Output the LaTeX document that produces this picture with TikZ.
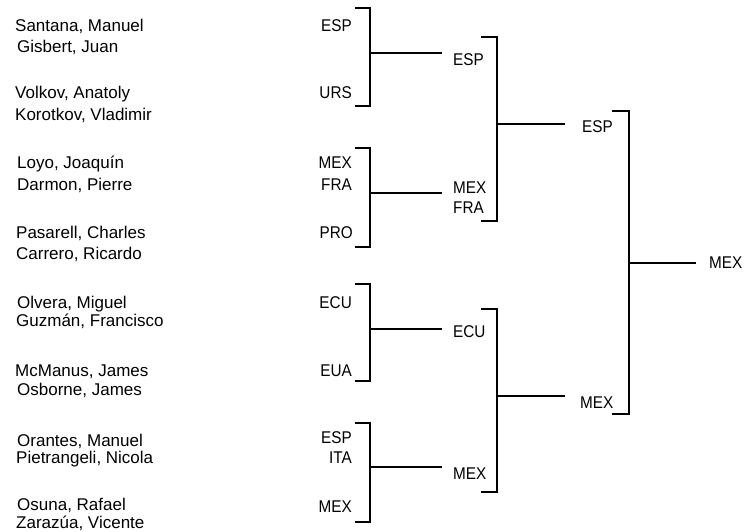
\documentclass[tikz,border=0pt]{standalone}
\usepackage{fontspec}
\setmainfont{Liberation Sans}
\newfontfamily\namefont{Liberation Sans}
\newfontfamily\codefont[FakeStretch=0.9]{Liberation Sans}
\begin{document}
\begin{tikzpicture}[x=1pt,y=-1pt,
  nm/.style={anchor=base west,inner sep=0pt,font=\namefont\fontsize{17}{20}\selectfont},
  cd/.style={anchor=base east,inner sep=0pt,font=\codefont\fontsize{17}{20}\selectfont},
  wn/.style={anchor=base west,inner sep=0pt,font=\codefont\fontsize{17}{20}\selectfont},
  br/.style={line width=1.7pt,line join=miter}]
\useasboundingbox (0,0) rectangle (745,532);

% players
\node[nm] (n1) at (15,32) {Santana, Manuel};
\node[nm] (n2) at (17,53) {Gisbert, Juan};
\node[nm] (n3) at (15,99) {Volkov, Anatoly};
\node[nm] (n4) at (15,121) {Korotkov, Vladimir};
\node[nm] (n5) at (17,169) {Loyo, Joaquín};
\node[nm] (n6) at (17,191) {Darmon, Pierre};
\node[nm] (n7) at (16,239) {Pasarell, Charles};
\node[nm] (n8) at (16,259) {Carrero, Ricardo};
\node[nm] (n9) at (17,308) {Olvera, Miguel};
\node[nm] (n10) at (16,326) {Guzmán, Francisco};
\node[nm] (n11) at (15,376) {McManus, James};
\node[nm] (n12) at (17,395) {Osborne, James};
\node[nm] (n13) at (17,446) {Orantes, Manuel};
\node[nm] (n14) at (16,463) {Pietrangeli, Nicola};
\node[nm] (n15) at (17,510.5) {Osuna, Rafael};
\node[nm] (n16) at (16,528.5) {Zarazúa, Vicente};

% first round countries
\node[cd] (c1) at (352,32) {ESP};
\node[cd] (c2) at (352,99) {URS};
\node[cd] (c3) at (352,169) {MEX};
\node[cd] (c4) at (352,191) {FRA};
\node[cd] (c5) at (353,239) {PRO};
\node[cd] (c6) at (352,308) {ECU};
\node[cd] (c7) at (352,376) {EUA};
\node[cd] (c8) at (352,443) {ESP};
\node[cd] (c9) at (352,463) {ITA};
\node[cd] (c10) at (352,512) {MEX};

% second round
\node[wn] (r1) at (453,66) {ESP};
\node[wn] (r2) at (453,194) {MEX};
\node[wn] (r3) at (453,214) {FRA};
\node[wn] (r4) at (453,337) {ECU};
\node[wn] (r5) at (453,479) {MEX};

% semifinal winners
\node[wn] (s1) at (582,133) {ESP};
\node[wn] (s2) at (580,408) {MEX};

% final winner
\node[wn] (f1) at (709,269) {MEX};

% first round brackets
\coordinate (b1t) at (355,8);   \coordinate (b1b) at (355,106); \coordinate (b1m) at (370,53);  \coordinate (b1e) at (442,53);
\coordinate (b2t) at (355,148); \coordinate (b2b) at (355,247); \coordinate (b2m) at (370,193); \coordinate (b2e) at (442,193);
\coordinate (b3t) at (355,284); \coordinate (b3b) at (355,381); \coordinate (b3m) at (370,329); \coordinate (b3e) at (442,329);
\coordinate (b4t) at (355,423); \coordinate (b4b) at (355,522); \coordinate (b4m) at (370,467); \coordinate (b4e) at (442,467);
\foreach \k in {1,2,3,4}{
  \draw[br] (b\k t) -| (b\k m) |- (b\k b);
  \draw[br] (b\k m) -- (b\k e);
}

% second round brackets
\coordinate (c1t) at (481,37);  \coordinate (c1b) at (481,221); \coordinate (c1m) at (497,124); \coordinate (c1e) at (565,124);
\coordinate (c2t) at (481,309); \coordinate (c2b) at (481,492); \coordinate (c2m) at (497,396); \coordinate (c2e) at (565,396);
\foreach \k in {1,2}{
  \draw[br] (c\k t) -| (c\k m) |- (c\k b);
  \draw[br] (c\k m) -- (c\k e);
}

% final bracket
\coordinate (d1t) at (612,111); \coordinate (d1b) at (612,414); \coordinate (d1m) at (629,263); \coordinate (d1e) at (696,263);
\draw[br] (d1t) -| (d1m) |- (d1b);
\draw[br] (d1m) -- (d1e);
\end{tikzpicture}
\end{document}
